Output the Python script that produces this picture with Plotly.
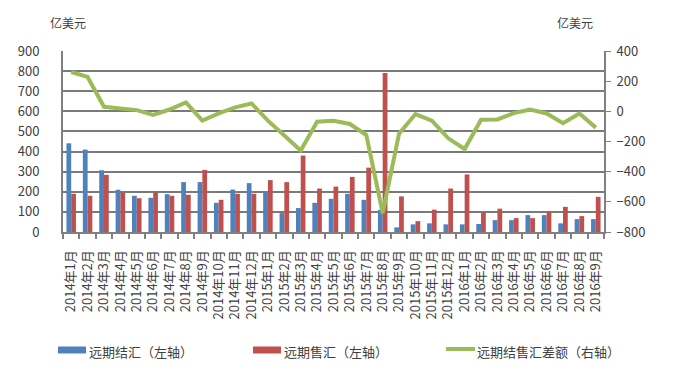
import plotly.graph_objects as go

months = ["2014年1月","2014年2月","2014年3月","2014年4月","2014年5月","2014年6月","2014年7月","2014年8月","2014年9月","2014年10月","2014年11月","2014年12月",
          "2015年1月","2015年2月","2015年3月","2015年4月","2015年5月","2015年6月","2015年7月","2015年8月","2015年9月","2015年10月","2015年11月","2015年12月",
          "2016年1月","2016年2月","2016年3月","2016年4月","2016年5月","2016年6月","2016年7月","2016年8月","2016年9月"]

settle = [441, 410, 307, 210, 180, 170, 188, 248, 248, 145, 211, 243,
          201, 94, 119, 145, 165, 190, 160, 110, 23, 38, 43, 38,
          38, 40, 59, 59, 84, 84, 43, 64, 64]
sale = [190, 180, 284, 196, 168, 196, 180, 185, 309, 160, 190, 190,
        258, 248, 380, 216, 226, 274, 320, 791, 177, 54, 111, 216,
        286, 97, 116, 69, 69, 101, 125, 79, 175]
diff = [261, 228, 30, 17, 8, -23, 12, 59, -62, -14, 26, 52,
        -62, -160, -260, -69, -62, -84, -157, -674, -148, -18, -62, -179,
        -250, -56, -54, -12, 12, -14, -78, -14, -108]

names = ["远期结汇（左轴）", "远期售汇（左轴）", "远期结售汇差额（右轴）"]
colors = ["#4F81BD", "#C0504D", "#9BBB59"]

FONT = "Noto Sans CJK SC"
TXT = "#404040"
W, H = 674, 369
L, R, T, B = 63, 70, 51, 137

fig = go.Figure()
fig.add_trace(go.Bar(x=months, y=settle, name=names[0], marker_color=colors[0], marker_line_width=0))
fig.add_trace(go.Bar(x=months, y=sale, name=names[1], marker_color=colors[1], marker_line_width=0))
fig.add_trace(go.Scatter(x=months, y=diff, name=names[2], mode="lines",
                         line=dict(color=colors[2], width=4), yaxis="y2"))

pw, ph = W - L - R, H - T - B
def px(x):
    return (x - L) / pw
def py(y):
    return (H - B - y) / ph

shapes = []
annotations = []
# custom legend
leg_y = 350
leg_items = [(58, "rect"), (253, "rect"), (446, "line")]
for (x0, kind), name, col in zip(leg_items, names, colors):
    if kind == "rect":
        shapes.append(dict(type="rect", xref="paper", yref="paper", x0=px(x0), x1=px(x0 + 28),
                           y0=py(leg_y - 3.5), y1=py(leg_y + 3.5), fillcolor=col, line_width=0))
    else:
        shapes.append(dict(type="line", xref="paper", yref="paper", x0=px(x0), x1=px(x0 + 29),
                           y0=py(leg_y - 1), y1=py(leg_y - 1), line=dict(color=col, width=4)))
    annotations.append(dict(text=name, xref="paper", yref="paper", x=px(x0 + 29), y=py(leg_y + 1),
                            xanchor="left", yanchor="middle", showarrow=False,
                            font=dict(size=13, color=TXT)))

annotations += [
    dict(text="亿美元", xref="paper", yref="paper", x=px(48), y=py(22), xanchor="left", yanchor="middle",
         showarrow=False, font=dict(size=12, color=TXT)),
    dict(text="亿美元", xref="paper", yref="paper", x=px(555), y=py(22), xanchor="left", yanchor="middle",
         showarrow=False, font=dict(size=12, color=TXT)),
]

fig.update_layout(
    width=W, height=H,
    margin=dict(l=L, r=R, t=T, b=B, autoexpand=False),
    paper_bgcolor="white", plot_bgcolor="white",
    font=dict(family=FONT, size=12, color=TXT),
    barmode="group", bargap=0.42, bargroupgap=0.0,
    showlegend=False,
    xaxis=dict(type="category", tickangle=-90, tickson="boundaries", ticks="outside", ticklen=5,
               tickcolor="#808080", tickwidth=1.5, showline=True, linecolor="#808080", linewidth=2,
               tickfont=dict(size=13, color=TXT), showgrid=False, automargin=False,
               ticklabelstandoff=11),
    yaxis=dict(range=[0, 900], dtick=100, showgrid=True, gridcolor="#7a7a7a", gridwidth=2,
               showline=True, linecolor="#808080", linewidth=2, ticks="", zeroline=False,
               tickfont=dict(size=13, color=TXT), automargin=False, ticklabelstandoff=19),
    yaxis2=dict(range=[-800, 400], dtick=200, overlaying="y", side="right", showgrid=False,
                showline=True, linecolor="#808080", linewidth=2, ticks="outside", ticklen=5,
                tickcolor="#808080", zeroline=False, tickfont=dict(size=13, color=TXT), automargin=False,
                ticklabelstandoff=3),
    shapes=shapes,
    annotations=annotations,
)

fig.write_html("out.html", config={"displayModeBar": False},
               post_script="document.body.style.margin='0';document.body.style.padding='0';")
